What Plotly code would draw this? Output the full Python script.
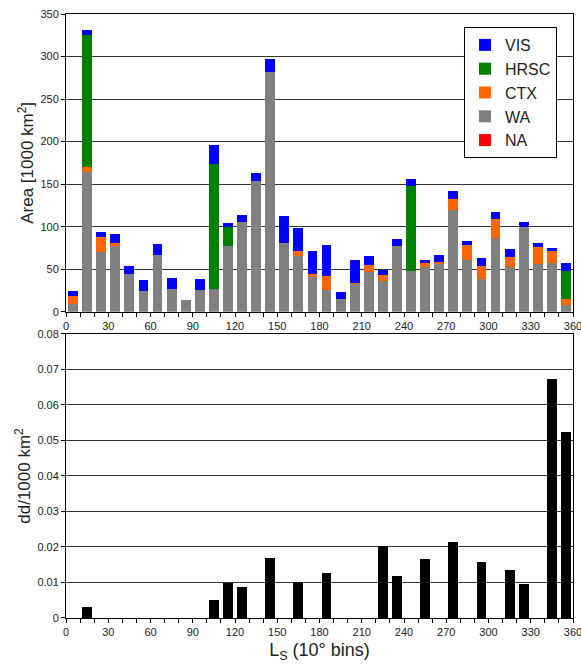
import plotly.graph_objects as go
from plotly.subplots import make_subplots

ls_bins = [5 + 10 * i for i in range(36)]

wa = [9.4, 164.7, 70.6, 77.6, 44.4, 24.4, 66.7, 26.7, 13.8, 25.5, 26.7, 77.3,
      105.5, 153.8, 282.0, 80.8, 65.5, 40.5, 25.5, 14.9, 33.0, 46.7, 36.1, 77.3,
      47.9, 52.6, 56.1, 119.6, 60.8, 38.5, 86.7, 52.6, 99.6, 56.1, 57.3, 7.9]
ctx = [9.4, 6.0, 17.3, 3.6, 0, 0, 0, 0, 0, 0, 0, 0,
       0, 0, 0, 0, 5.9, 3.9, 16.5, 0, 1.1, 8.2, 7.1, 0,
       0, 4.7, 2.4, 13.0, 17.7, 15.3, 22.4, 11.8, 0, 20.0, 14.1, 7.0]
hrsc = [0, 155.0, 0, 0, 0, 0, 0, 0, 0, 0, 147.0, 22.3,
        0, 0, 0, 0, 0, 0, 0, 0, 0, 0, 0, 0,
        100.0, 0, 0, 0, 0, 0, 0, 0, 0, 0, 0, 33.0]
vis = [5.6, 6.0, 5.9, 10.2, 9.4, 12.9, 12.9, 12.9, 0, 13.0, 22.3, 4.7,
       8.3, 9.4, 15.3, 31.8, 27.1, 27.0, 36.5, 8.3, 26.7, 10.6, 5.9, 8.2,
       8.1, 3.5, 8.2, 9.4, 4.7, 9.4, 8.2, 9.4, 5.9, 4.7, 3.5, 9.4]
na = [0] * 36

dd = [0, 0.0031, 0, 0, 0, 0, 0, 0, 0, 0, 0.0052, 0.0098,
      0.0088, 0, 0.0168, 0, 0.0101, 0, 0.0128, 0, 0, 0, 0.0204, 0.0117,
      0, 0.0165, 0, 0.0213, 0, 0.0159, 0, 0.0136, 0.0097, 0, 0.0672, 0.0523]

x_ticks = list(range(0, 361, 30))
dd_ticks = [0, 0.01, 0.02, 0.03, 0.04, 0.05, 0.06, 0.07, 0.08]
dd_ticktext = ["0", "0.01", "0.02", "0.03", "0.04", "0.05", "0.06", "0.07", "0.08"]

fig = make_subplots(rows=2, cols=1, shared_xaxes=False, vertical_spacing=0.03)

series = [("NA", na, "#FF0000"), ("WA", wa, "#808080"), ("CTX", ctx, "#FF6600"),
          ("HRSC", hrsc, "#008000"), ("VIS", vis, "#0000FF")]
for name, vals, col in series:
    fig.add_trace(go.Bar(x=ls_bins, y=vals, name=name, width=7,
                         marker=dict(color=col, line=dict(width=0))), row=1, col=1)

fig.add_trace(go.Bar(x=ls_bins, y=dd, width=7, showlegend=False,
                     marker=dict(color="#000000", line=dict(width=0))), row=2, col=1)

font_family = "Liberation Sans, Arial, sans-serif"
axis_common = dict(showline=True, linecolor="black", linewidth=1, mirror=True,
                   ticks="outside", ticklen=4, tickcolor="black", automargin=False,
                   ticklabeloverflow="allow",
                   tickfont=dict(size=11, color="#222"), zeroline=False)

fig.update_layout(
    width=581, height=664,
    margin=dict(l=66, r=8, t=14, b=46),
    barmode="stack",
    plot_bgcolor="white", paper_bgcolor="white",
    font=dict(family=font_family, color="#222"),
    legend=dict(x=0.9684, y=0.9785, xanchor="right", yanchor="top",
                traceorder="reversed", bordercolor="black", borderwidth=1,
                bgcolor="white", font=dict(size=16, color="#222"),
                tracegroupgap=0, itemwidth=30),
    xaxis=dict(domain=[0, 1], range=[0, 360], tickvals=x_ticks,
               minor=dict(dtick=10, tick0=0, ticks="outside", ticklen=4, tickcolor="black"),
               showgrid=False, **axis_common),
    yaxis=dict(domain=[0.5071, 1.0], range=[0, 350], dtick=50,
               showgrid=True, gridcolor="#333", gridwidth=1,
               title=dict(text="Area [1000 km<sup>2</sup>]", font=dict(size=17), standoff=2),
               **axis_common),
    xaxis2=dict(domain=[0, 1], range=[0, 360], tickvals=x_ticks,
                minor=dict(dtick=10, tick0=0, ticks="outside", ticklen=4, tickcolor="black"),
                showgrid=False,
                title=dict(text="L<sub>S</sub> (10° bins)", font=dict(size=18), standoff=6),
                **axis_common),
    yaxis2=dict(domain=[0.0, 0.4702], range=[0, 0.08], tickvals=dd_ticks, ticktext=dd_ticktext,
                showgrid=True, gridcolor="#333", gridwidth=1,
                title=dict(text="dd/1000 km<sup>2</sup>", font=dict(size=17), standoff=2),
                **axis_common),
)

fig.write_html("out.html")
